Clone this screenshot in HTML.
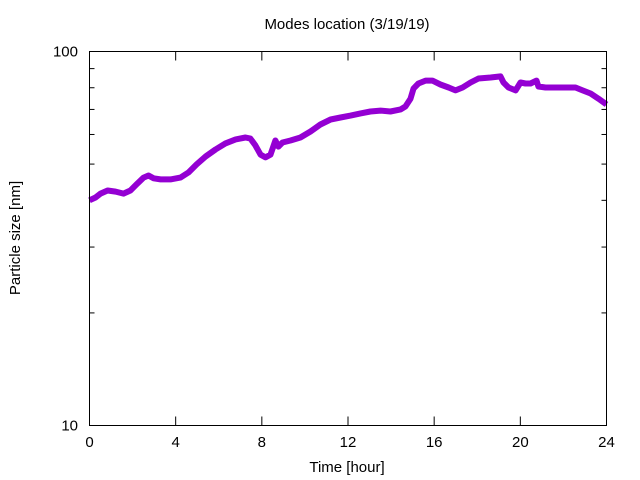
<!DOCTYPE html>
<html><head><meta charset="utf-8"><style>
body{margin:0;background:#fff}
svg{display:block;font-family:"Liberation Sans",sans-serif}
</style></head><body>
<svg id="chart" width="640" height="480" viewBox="0 0 640 480">
<rect width="640" height="480" fill="#fff"/>
<text x="347" y="29" font-size="15" text-anchor="middle">Modes location (3/19/19)</text>
<text x="347" y="472" font-size="15" text-anchor="middle">Time [hour]</text>
<text x="20" y="238" font-size="15" text-anchor="middle" transform="rotate(-90 20 238)">Particle size [nm]</text>
<g id="axes"></g>
<g id="series"></g>
<rect x="89.5" y="51.5" width="517" height="374" fill="none" stroke="#000" stroke-width="1"/>
</svg>
<script>
const hours=[0,0.28,0.51,0.84,1.21,1.58,1.9,2.23,2.51,2.74,2.97,3.3,3.76,4.22,4.6,4.97,5.39,5.85,6.31,6.78,7.24,7.47,7.7,7.94,8.17,8.4,8.63,8.77,8.96,9.33,9.79,10.26,10.72,11.19,11.65,12.12,12.58,13.04,13.51,13.97,14.44,14.67,14.9,15.04,15.27,15.6,15.92,16.29,16.67,16.99,17.32,17.69,18.06,18.62,19.08,19.22,19.45,19.78,20.01,20.24,20.47,20.75,20.84,21.17,21.63,22.1,22.56,22.89,23.26,23.63,24];
const sizes=[40.0,40.7,41.7,42.5,42.2,41.7,42.5,44.4,46.0,46.6,45.8,45.5,45.5,46.0,47.5,49.9,52.4,54.7,56.8,58.2,58.9,58.5,56.1,53.0,52.1,53.0,57.8,55.7,57.1,57.8,58.9,61.1,63.8,65.8,66.6,67.4,68.3,69.1,69.5,69.1,70.0,71.3,74.8,79.6,82.1,83.6,83.6,81.6,80.1,78.7,80.1,82.6,84.7,85.2,85.8,82.6,80.1,78.7,82.6,82.1,82.1,83.6,80.6,80.1,80.1,80.1,80.1,78.7,77.2,74.8,72.2];
const xTicks=[0,4,8,12,16,20,24];
const yMajor=[10,100];
const yMinor=[20,30,40,50,60,70,80,90];
const L=89.5,R=606.5,T=51.5,B=425.5;
const xs=h=>L+(h/24)*(R-L);
const ys=v=>B-(Math.log10(v)-1)*(B-T);
const NS="http://www.w3.org/2000/svg";
const axes=document.getElementById('axes');
function line(x1,y1,x2,y2,name){const l=document.createElementNS(NS,'line');l.setAttribute('x1',x1);l.setAttribute('y1',y1);l.setAttribute('x2',x2);l.setAttribute('y2',y2);l.setAttribute('stroke','#000');


axes.appendChild(l);}
function text(x,y,s,anchor,name){const t=document.createElementNS(NS,'text');t.setAttribute('x',x);t.setAttribute('y',y);t.setAttribute('font-size','15');t.setAttribute('text-anchor',anchor);t.textContent=s;


axes.appendChild(t);}
xTicks.forEach(h=>{const x=xs(h);line(x,B,x,B-9,'x-tick');line(x,T,x,T+9,'x-tick-top');text(x,447,String(h),'middle','x-tick-label');});
yMajor.forEach(v=>{const y=ys(v);line(L,y,L+9,y,'y-tick');line(R,y,R-9,y,'y-tick-right');text(78,y+5,String(v),'end','y-tick-label');});
yMinor.forEach(v=>{const y=ys(v);line(L,y,L+5,y,'y-minor-tick');line(R,y,R-5,y,'y-minor-tick-right');});
const ser=document.getElementById('series');
const p=document.createElementNS(NS,'polyline');
p.setAttribute('points',hours.map((h,i)=>xs(h).toFixed(1)+','+ys(sizes[i]).toFixed(1)).join(' '));
p.setAttribute('fill','none');p.setAttribute('stroke','#9400d3');p.setAttribute('stroke-width','6');p.setAttribute('stroke-linejoin','round');


ser.appendChild(p);
</script>
</body></html>
